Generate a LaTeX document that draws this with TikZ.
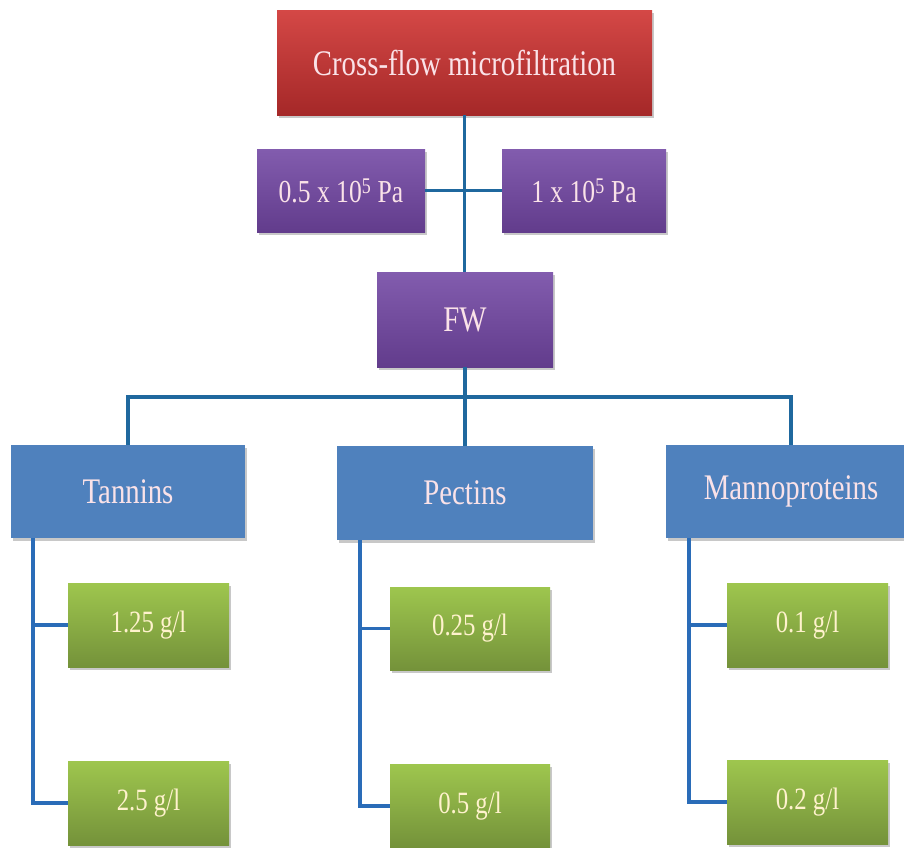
\documentclass[tikz,border=0pt]{standalone}
\usepackage{fontspec}
\setmainfont[FakeStretch=0.8]{Liberation Serif}
\usetikzlibrary{shadows}
\definecolor{redtop}{RGB}{212,72,70}
\definecolor{redbot}{RGB}{165,40,40}
\definecolor{purtop}{RGB}{130,92,174}
\definecolor{purbot}{RGB}{98,60,140}
\definecolor{bluebox}{RGB}{79,129,189}
\definecolor{grntop}{RGB}{158,198,78}
\definecolor{grnbot}{RGB}{116,146,58}
\definecolor{pinktxt}{RGB}{250,226,232}
\definecolor{creamtxt}{RGB}{255,242,205}
\definecolor{linetop}{RGB}{31,104,158}
\definecolor{linebot}{RGB}{42,108,184}
\tikzset{
  boxbase/.style={rectangle, inner sep=0pt, align=center,
    drop shadow={shadow xshift=1.5pt, shadow yshift=-2.5pt, opacity=0.3, fill=black!70}},
  redbox/.style={boxbase, top color=redtop, bottom color=redbot, text=pinktxt,
    font=\fontsize{36}{40}\selectfont},
  purbox/.style={boxbase, top color=purtop, bottom color=purbot, text=pinktxt},
  bluebx/.style={boxbase, fill=bluebox, text=pinktxt, font=\fontsize{36}{40}\selectfont},
  grnbox/.style={boxbase, top color=grntop, bottom color=grnbot, text=creamtxt,
    minimum width=161pt, minimum height=84pt, font=\fontsize{31}{36}\selectfont},
  toplink/.style={draw=linetop, line width=3.8pt},
  botlink/.style={draw=linebot, line width=3.5pt},
}
\begin{document}
\begin{tikzpicture}[x=1pt,y=-1pt]
\fill[white] (0,0) rectangle (904,847);
\clip (0,0) rectangle (904,847);

% connectors first (behind boxes)
\coordinate (bus) at (465,397);
\coordinate (tl) at (33,0);
\coordinate (pl) at (360,0);
\coordinate (ml) at (689,0);

% nodes
\node[redbox, minimum width=375pt, minimum height=105pt] (top) at (464.5,62.5) {Cross-flow microfiltration};
\node[purbox, minimum width=168pt, minimum height=83pt, font=\fontsize{32}{36}\selectfont] (p1) at (341,190.5) {0.5 x 10\textsuperscript{5} Pa};
\node[purbox, minimum width=164pt, minimum height=83pt, font=\fontsize{32}{36}\selectfont] (p2) at (584,190.5) {1 x 10\textsuperscript{5} Pa};
\node[purbox, minimum width=176pt, minimum height=95pt, font=\fontsize{36}{40}\selectfont] (fw) at (465,319.5) {FW};

\node[bluebx, minimum width=234pt, minimum height=93pt] (tan) at (128,491.5) {Tannins};
\node[bluebx, minimum width=256pt, minimum height=94pt] (pec) at (465,493) {Pectins};
\node[bluebx, minimum width=250pt, minimum height=93pt] (man) at (791,491.5) {Mannoproteins};

\node[grnbox] (g11) at (148.5,625) {1.25 g/l};
\node[grnbox] (g12) at (148.5,803) {2.5 g/l};
\node[grnbox, minimum width=160pt, minimum height=83pt] (g21) at (470,628.5) {0.25 g/l};
\node[grnbox, minimum width=160pt, minimum height=83pt] (g22) at (470,806) {0.5 g/l};
\node[grnbox] (g31) at (807.5,625) {0.1 g/l};
\node[grnbox] (g32) at (807.5,802) {0.2 g/l};

% connectors
\draw[toplink] (top.south) -- (top.south |- fw.north);
\draw[toplink] (p1.east) -- (p2.west);
\draw[toplink] (fw.south) -- (pec.north);
\draw[toplink] (tan.north) -- (tan.north |- bus) -- (man.north |- bus) -- (man.north);

\draw[botlink] (tan.south -| tl) |- (g12.west);
\draw[botlink] (tl |- g11.west) -- (g11.west);
\draw[botlink] (pec.south -| pl) |- (g22.west);
\draw[botlink] (pl |- g21.west) -- (g21.west);
\draw[botlink] (man.south -| ml) |- (g32.west);
\draw[botlink] (ml |- g31.west) -- (g31.west);
\end{tikzpicture}
\end{document}
